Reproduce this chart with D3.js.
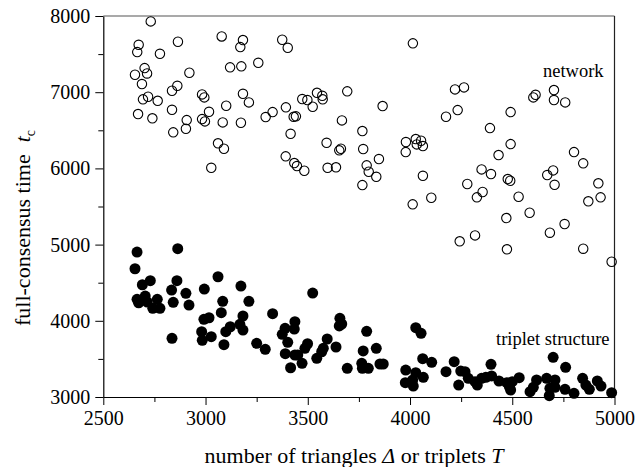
<!DOCTYPE html>
<html>
<head>
<meta charset="utf-8">
<script src="https://cdn.jsdelivr.net/npm/d3@7"></script>
<style>
  body { margin: 0; background: #fff; }
  svg text { font-family: "Liberation Serif", "Times New Roman", serif; fill: #000; }
</style>
</head>
<body>
<svg id="chart" width="638" height="467"></svg>
<script>
// network (open circles)
let netX = [2732,2673,2666,2777,2865,3079,3183,3170,3258,2702,2655,2714,2921,3120,3175,2689,2862,2836,2719,2694,
  2766,2983,2994,3183,3212,2836,3101,3017,2670,2740,2908,2983,2997,3084,3173,2904,2842,3061,3090,3028,
  3375,3402,4014,3294,3328,3393,3431,3442,3473,3498,3524,3545,3571,3573,3693,3866,4176,3416,3667,3767,
  3592,3654,3662,3771,3392,3434,3447,3483,3597,3638,3788,3798,3835,3848,3980,4028,4033,4054,4063,3979,
  4063,4220,4264,4233,4492,4391,4492,4433,4350,4396,4478,4490,4603,4614,4704,4704,4759,4802,4847,4671,
  4700,4280,4355,4327,4531,4707,4921,4932,4872,4471,4585,4756,4684,4243,4318,4474,4847,4986,3767,4013,4104];
let netY = [7929,7622,7526,7504,7662,7732,7684,7592,7386,7316,7229,7246,7255,7326,7339,7107,7084,7019,6940,6906,
  6887,6971,6932,6979,6866,6769,6822,6743,6713,6657,6634,6647,6617,6604,6599,6520,6473,6329,6258,6008,
  7688,7583,7641,6674,6739,6801,6677,6683,6910,6897,6809,6992,6953,6906,7011,6818,6678,6454,6630,6490,
  6336,6237,6258,6254,6158,6070,6031,5969,6008,6014,6040,5956,5890,6123,6346,6385,6315,6363,6293,6214,
  5903,7037,7063,6765,6739,6529,6319,6175,5987,5926,5860,5838,6932,6966,7028,6897,6866,6214,6066,5913,
  5974,5795,5690,5620,5628,5785,5804,5620,5568,5348,5418,5270,5156,5043,5121,4938,4946,4775,5781,5528,5615];

// triplet structure (filled circles)
let triX = [2665,2864,2655,2691,2730,2860,2834,2904,2919,2842,2994,3061,3173,3084,3212,3077,3183,2992,3017,2665,
  2673,2705,2715,2742,2764,2777,2836,2981,2984,3028,3090,3099,3121,3168,3183,3250,3328,3292,3389,3437,
  3434,3375,3402,3390,3437,3451,3416,3472,3486,3499,3544,3568,3576,3595,3638,3657,3654,3666,3693,3788,
  3771,3835,3764,3767,3796,3853,3869,4028,4054,4062,4106,4176,3979,4028,4065,3977,4013,4016,4216,4238,
  4248,4269,4285,4318,4329,4350,4371,4396,4399,4435,4473,4486,4492,4500,4534,4587,4603,4619,4668,4700,
  4709,4684,4681,4709,4758,4761,4802,4844,4860,4877,4916,4934,4986,3524];
let triY = [4902,4946,4683,4473,4526,4526,4404,4361,4207,4242,4417,4578,4456,4256,4256,4106,4063,4019,4040,4282,
  4237,4325,4246,4164,4282,4164,3770,3857,3744,3791,3686,3857,3922,3954,3879,3704,4093,3626,3901,3988,
  3892,3823,3718,3568,3551,3551,3384,3442,3639,3699,3508,3594,3639,3761,3656,4033,3932,3958,3377,3862,
  3604,3639,3442,3377,3377,3433,3433,3909,3836,3503,3455,3332,3354,3319,3258,3188,3223,3144,3463,3157,
  3341,3332,3245,3201,3157,3245,3258,3429,3276,3210,3188,3135,3092,3201,3253,3070,3127,3223,3245,3521,
  3223,3114,3017,3127,3101,3390,3049,3245,3157,3101,3210,3144,3056,4364];

let xMajor = [2500, 3000, 3500, 4000, 4500, 5000],
    xMinor = [2750, 3250, 3750, 4250, 4750],
    yMajor = [3000, 4000, 5000, 6000, 7000, 8000],
    yMinor = [3500, 4500, 5500, 6500, 7500];

// plot area
let margin = {top: 16, right: 23.5, bottom: 70, left: 103.3},
    width = 638 - margin.left - margin.right,
    height = 467 - margin.top - margin.bottom;

let x = d3.scaleLinear().domain([2500, 5000]).range([0, width]);
let y = d3.scaleLinear().domain([3000, 8000]).range([height, 0]);

let svg = d3.select("#chart")
  .append("g")
  .attr("transform", "translate(" + margin.left + "," + margin.top + ")");

// frame on top and right
svg.append("line").attr("x1", 0).attr("x2", width).attr("y1", 0).attr("y2", 0)
  .attr("stroke", "#555").attr("stroke-width", 1.2);
svg.append("line").attr("x1", width).attr("x2", width).attr("y1", 0).attr("y2", height)
  .attr("stroke", "#222").attr("stroke-width", 1.2);

// axes
function styleAxis(g) {
  g.select(".domain").attr("stroke", "#000").attr("stroke-width", 1.2);
  g.selectAll(".tick line").attr("stroke", "#000").attr("stroke-width", 1);
  g.selectAll(".tick text").style("font-size", "20px");
}

svg.append("g")
  .attr("transform", "translate(0," + height + ")")
  .call(d3.axisBottom(x).tickValues(xMinor).tickSize(5).tickFormat(""))
  .call(g => g.select(".domain").remove())
  .call(styleAxis);

svg.append("g")
  .attr("transform", "translate(0," + height + ")")
  .call(d3.axisBottom(x).tickValues(xMajor).tickSize(8).tickSizeOuter(0).tickPadding(6).tickFormat(d3.format("d")))
  .call(styleAxis);

svg.append("g")
  .call(d3.axisLeft(y).tickValues(yMinor).tickSize(5).tickFormat(""))
  .call(g => g.select(".domain").remove())
  .call(styleAxis);

svg.append("g")
  .call(d3.axisLeft(y).tickValues(yMajor).tickSize(8).tickSizeOuter(0).tickPadding(5).tickFormat(d3.format("d")))
  .call(styleAxis);

// points
let net = netX.map((v, i) => ({x: v, y: netY[i]}));
let tri = triX.map((v, i) => ({x: v, y: triY[i]}));

svg.append("g").selectAll("circle")
  .data(net)
  .join("circle")
  .attr("cx", d => x(d.x))
  .attr("cy", d => y(d.y))
  .attr("r", 4.7)
  .attr("fill", "none")
  .attr("stroke", "#000")
  .attr("stroke-width", 1.1);

svg.append("g").selectAll("circle")
  .data(tri)
  .join("circle")
  .attr("cx", d => x(d.x))
  .attr("cy", d => y(d.y))
  .attr("r", 5.5)
  .attr("fill", "#000");

// annotations
svg.append("text")
  .attr("x", 543 - margin.left).attr("y", 77 - margin.top)
  .style("font-size", "18.5px")
  .text("network");

svg.append("text")
  .attr("x", 496 - margin.left).attr("y", 345 - margin.top)
  .style("font-size", "18.5px")
  .text("triplet structure");

// axis titles
let xt = d3.select("#chart").append("text")
  .attr("x", 354).attr("y", 463)
  .attr("text-anchor", "middle")
  .style("font-size", "22px");
xt.append("tspan").text("number of triangles ");
xt.append("tspan").style("font-style", "italic").text("\u0394");
xt.append("tspan").text(" or triplets ");
xt.append("tspan").style("font-style", "italic").text("T");

let yt = d3.select("#chart").append("text")
  .attr("transform", "translate(30,228) rotate(-90)")
  .attr("text-anchor", "middle")
  .style("font-size", "22px");
yt.append("tspan").text("full-consensus time");
yt.append("tspan").attr("dx", 12).style("font-style", "italic").text("t");
yt.append("tspan").attr("dy", 5).style("font-size", "14px").text("c");
</script>
</body>
</html>
